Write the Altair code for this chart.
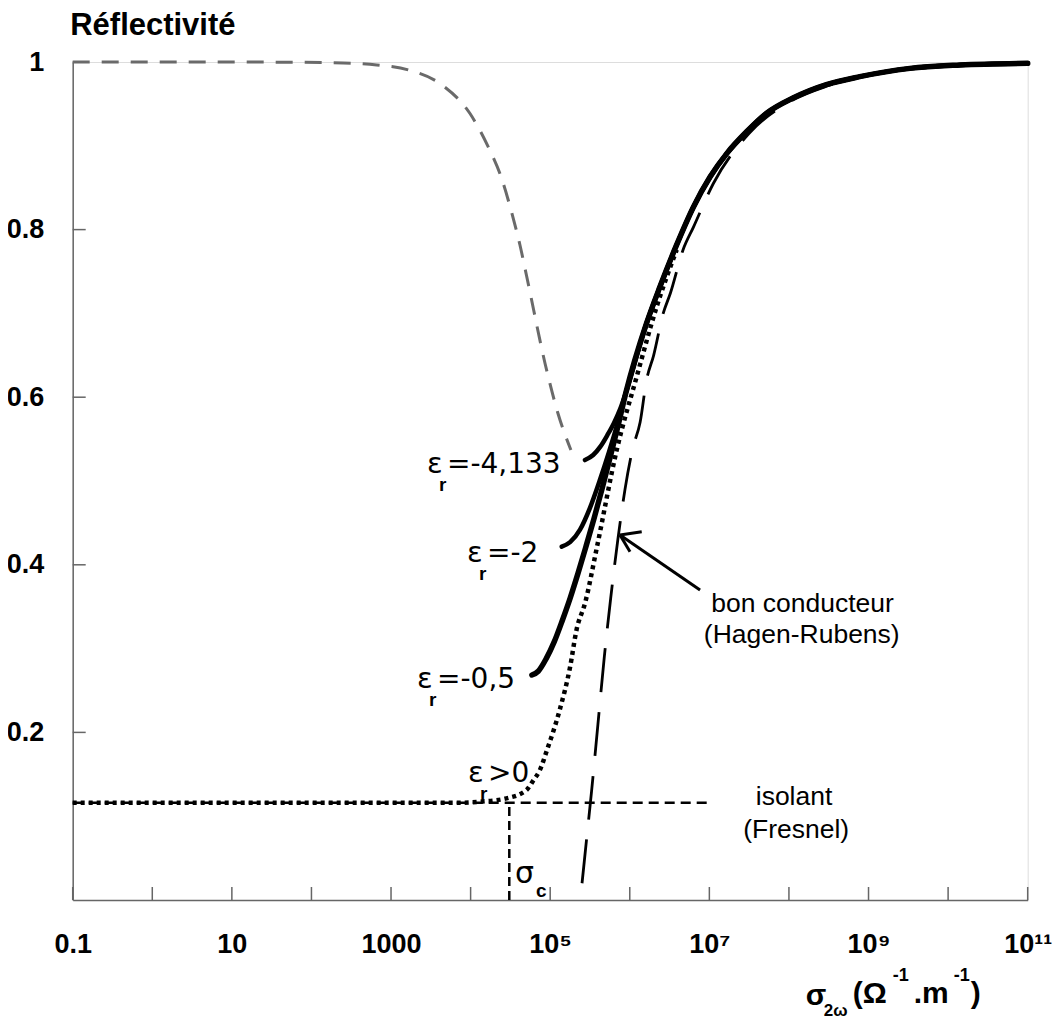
import json
import altair as alt
import pandas as pd

FONT = "Liberation Sans"
GFONT = "DejaVu Sans"
AXIS_GRAY = "#666666"
W, H = 955, 838

# ---------------- readings (x as log10 of sigma, y = reflectivity) ----------------
gray_lx = [-1.0, 1.0, 1.6, 2.4, 2.82, 3.22, 3.64, 3.99, 4.22, 4.39, 4.52, 4.62, 4.705, 4.956, 5.10, 5.26]
gray_r = [1.0, 1.0, 0.9998, 0.9988, 0.9964, 0.9905, 0.9726, 0.9388, 0.899, 0.861, 0.819, 0.7816, 0.744, 0.632, 0.58, 0.537]

main_lx = [5.95, 6.21, 6.38, 6.59, 6.80, 7.01, 7.22, 7.47, 7.72, 8.05, 8.47, 8.89, 9.52, 10.15, 11.0]
main_r = [0.605, 0.688, 0.732, 0.782, 0.827, 0.863, 0.891, 0.917, 0.939, 0.957, 0.973, 0.9825, 0.9924, 0.9964, 0.9984]

m4_lx = [5.437, 5.54, 5.63, 5.72, 5.80, 5.88]
m4_r = [0.525, 0.531, 0.541, 0.555, 0.569, 0.586]

m2_lx = [5.145, 5.25, 5.375, 5.50, 5.62, 5.74, 5.85]
m2_r = [0.4216, 0.427, 0.442, 0.468, 0.50, 0.535, 0.57]

m05_lx = [4.77, 4.85, 4.95, 5.05, 5.15, 5.25, 5.35, 5.45, 5.55, 5.65, 5.75, 5.85]
m05_r = [0.2685, 0.273, 0.288, 0.308, 0.333, 0.36, 0.39, 0.422, 0.455, 0.49, 0.527, 0.565]

pos_lx = [-1.0, 3.9, 4.12, 4.45, 4.70, 4.79, 4.87, 4.96, 5.12, 5.25, 5.33, 5.44, 5.585, 5.836, 6.087, 6.338, 6.59]
pos_r = [0.1161, 0.1161, 0.1173, 0.1213, 0.131, 0.143, 0.155, 0.179, 0.227, 0.278, 0.322, 0.355, 0.42, 0.537, 0.6245, 0.708, 0.776]

hr_lx = [5.40, 5.46, 5.52, 5.60, 5.68, 5.76, 5.85, 5.94, 6.04, 6.13, 6.21, 6.30, 6.42, 6.51, 6.67, 6.80, 7.05, 7.5, 8.0, 8.5, 9.0, 10.0, 11.0]
hr_r = [0.02, 0.075, 0.13, 0.21, 0.29, 0.36, 0.43, 0.49, 0.54, 0.57, 0.62, 0.65, 0.70, 0.724, 0.776, 0.803, 0.855, 0.915, 0.952, 0.972, 0.985, 0.995, 0.9985]

fresnel_r = 0.1161
fresnel_lx = [-1.0, 7.01]
sigma_c_lx = 4.486

# annotation anchors (log10 sigma, R)
eps_lx = [3.452, 3.955, 3.327, 3.967]
eps_r = [0.5095, 0.4033, 0.253, 0.1408]
eps_txt = ["=-4,133", "=-2", "=-0,5", ">0"]

arrow_lx = [6.883, 5.877, 5.877]
arrow_r = [0.370, 0.4356, 0.4356]
arrow_lx2 = [5.877, 6.150, 6.003]
arrow_r2 = [0.4356, 0.4395, 0.4156]

x_tick_exp = list(range(-1, 12))
x_tick_lab = ["0.1", "", "10", "", "1000", "", "10⁵", "", "10⁷", "", "10⁹", "", "10¹¹"]
y_tick_val = [0.2, 0.4, 0.6, 0.8, 1.0]
y_tick_lab = ["0.2", "0.4", "0.6", "0.8", "1"]


def frame(lx, r, **extra):
    d = pd.DataFrame({"sigma": [10 ** v for v in lx], "R": r})
    for k, v in extra.items():
        d[k] = v
    return d


X = alt.X(
    "sigma:Q",
    scale=alt.Scale(type="log", domain=[0.1, 1e11], nice=False),
    axis=alt.Axis(
        values=[10 ** e for e in x_tick_exp],
        labelExpr=json.dumps(x_tick_lab, ensure_ascii=False) + "[round(log(datum.value)/LN10)+1]",
        title=None, ticks=False, grid=False, domainColor=AXIS_GRAY, domainWidth=1.5,
        labelFont=FONT, labelFontWeight="bold", labelFontSize=27, labelColor="black",
        labelPadding=32, labelFlush=False, labelOverlap=False,
    ),
)
Y = alt.Y(
    "R:Q",
    scale=alt.Scale(domain=[0, 1], nice=False, zero=False),
    axis=alt.Axis(
        values=y_tick_val,
        labelExpr=json.dumps(y_tick_lab) + "[round(datum.value*5)-1]",
        title="Réflectivité", titleAngle=0, titleAlign="left", titleBaseline="alphabetic",
        titleX=-3, titleY=-28, titleFont=FONT, titleFontSize=31, titleFontWeight="bold",
        titleColor="black",
        ticks=False, grid=False, domainColor=AXIS_GRAY, domainWidth=1.5,
        labelFont=FONT, labelFontWeight="bold", labelFontSize=27, labelColor="black",
        labelPadding=29, labelFlush=False, labelOverlap=False,
    ),
)

layers = []

# inward ticks
layers.append(alt.Chart(frame(x_tick_exp, [0] * len(x_tick_exp))).mark_rule(color=AXIS_GRAY, strokeWidth=1.5)
              .encode(x=X, y=alt.value(H), y2=alt.value(H - 13)))
layers.append(alt.Chart(pd.DataFrame({"R": y_tick_val})).mark_rule(color=AXIS_GRAY, strokeWidth=1.5)
              .encode(y=Y, x=alt.value(0), x2=alt.value(13)))

# Fresnel (insulator) line and sigma_c marker
layers.append(alt.Chart(frame(fresnel_lx, [fresnel_r, fresnel_r])).mark_line(
    color="black", strokeWidth=2.5, strokeDash=[10, 6]).encode(x=X, y=Y))
layers.append(alt.Chart(pd.DataFrame({"sigma": [10 ** sigma_c_lx], "R": [0.0], "R2": [fresnel_r]}))
              .mark_rule(color="black", strokeWidth=2.5, strokeDash=[9, 5])
              .encode(x=X, y=Y, y2="R2:Q"))

# gray dashed curve
layers.append(alt.Chart(frame(gray_lx, gray_r)).mark_line(
    color="#6a6a6a", strokeWidth=3, strokeDash=[17, 12], interpolate="monotone").encode(x=X, y=Y))

# Hagen-Rubens long dash
layers.append(alt.Chart(frame(hr_lx, hr_r)).mark_line(
    color="black", strokeWidth=2.8, strokeDash=[44, 20], interpolate="monotone").encode(x=X, y=Y))

# dotted eps_r > 0
layers.append(alt.Chart(frame(pos_lx, pos_r)).mark_line(
    color="black", strokeWidth=4.5, strokeDash=[4, 4], interpolate="monotone").encode(x=X, y=Y))

# solid curves
for lx, r, sw in [(m05_lx, m05_r, 5.5), (m2_lx, m2_r, 4.5), (m4_lx, m4_r, 4.5)]:
    layers.append(alt.Chart(frame(lx + main_lx, r + main_r)).mark_line(
        color="black", strokeWidth=sw, interpolate="monotone", strokeCap="round").encode(x=X, y=Y))

# arrow
layers.append(alt.Chart(pd.DataFrame({
    "sigma": [10 ** v for v in arrow_lx], "R": arrow_r,
    "sigma2": [10 ** v for v in arrow_lx2], "R2": arrow_r2,
})).mark_rule(color="black", strokeWidth=3).encode(x=X, x2="sigma2:Q", y=Y, y2="R2:Q"))

# epsilon labels
eps_df = frame(eps_lx, eps_r, rest=eps_txt)
layers.append(alt.Chart(eps_df).mark_text(text="ε", font=GFONT, fontSize=29, align="left",
                                          baseline="alphabetic", color="black").encode(x=X, y=Y))
layers.append(alt.Chart(eps_df).mark_text(text="r", font=FONT, fontWeight="bold", fontSize=19, align="left",
                                          baseline="alphabetic", color="black", dx=12, dy=18).encode(x=X, y=Y))
layers.append(alt.Chart(eps_df).mark_text(font=GFONT, fontSize=28, align="left",
                                          baseline="alphabetic", color="black", dx=20).encode(x=X, y=Y, text="rest:N"))

# sigma_c label
sc_df = frame([4.558], [0.0203])
layers.append(alt.Chart(sc_df).mark_text(text="σ", font=GFONT, fontSize=30, align="left",
                                         baseline="alphabetic", color="black").encode(x=X, y=Y))
layers.append(alt.Chart(sc_df).mark_text(text="c", font=FONT, fontWeight="bold", fontSize=19, align="left",
                                         baseline="alphabetic", color="black", dx=21, dy=14).encode(x=X, y=Y))

# text annotations
ann_df = pd.DataFrame({
    "sigma": [10 ** 8.064, 10 ** 8.09, 10 ** 8.171, 10 ** 8.161],
    "R": [0.1134, 0.074, 0.344, 0.3067],
    "t": ["isolant", "(Fresnel)", "bon conducteur", "(Hagen-Rubens)"],
})
layers.append(alt.Chart(ann_df).mark_text(font=FONT, fontSize=26.5, align="center", baseline="alphabetic",
                                          color="black").encode(x=X, y=Y, text="t:N"))


# x-axis title built from pieces (sub/superscripts)
def ptext(s, x, y, size):
    return alt.Chart(pd.DataFrame({"t": [s]})).mark_text(
        align="left", baseline="alphabetic", font=FONT, fontSize=size, fontWeight="bold", color="black"
    ).encode(text="t:N", x=alt.value(x), y=alt.value(y))


layers += [
    ptext("σ", 733, 943, 30),
    ptext("2ω", 751, 954, 17),
    ptext("(Ω", 780, 941, 30),
    ptext("-1", 820, 919, 18),
    ptext(".m", 841, 941, 30),
    ptext("-1", 881, 919, 18),
    ptext(")", 898, 941, 30),
]

chart = alt.layer(*layers).properties(
    width=W, height=H,
    padding={"left": 64.7, "top": 54, "right": 24, "bottom": 121},
    autosize="none",
).configure_view(stroke=None).configure(background="white")

chart.save("out.html", embed_options={"renderer": "svg", "actions": False})
